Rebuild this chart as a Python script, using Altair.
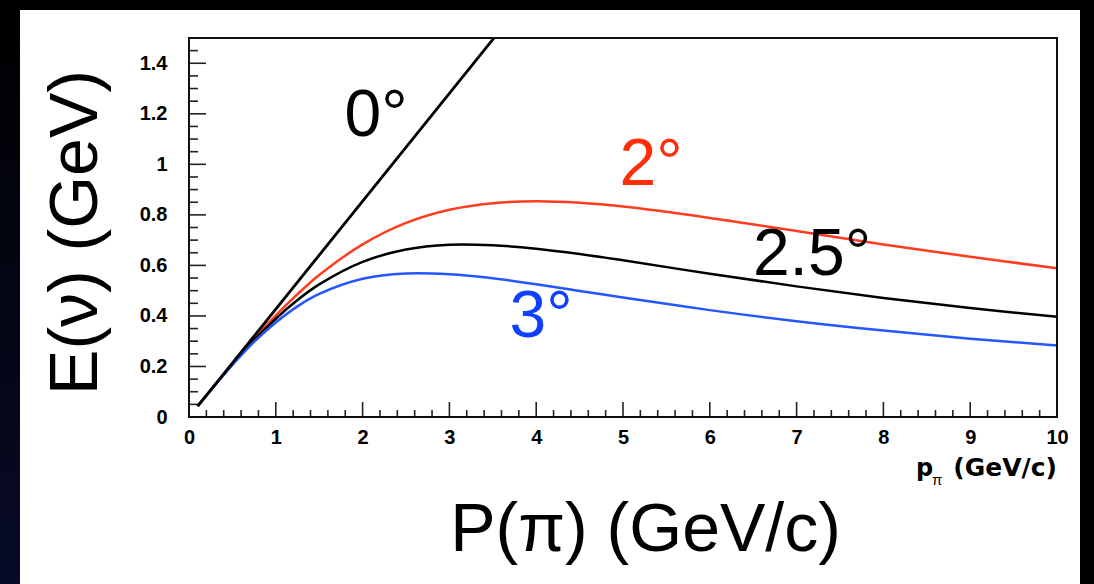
import altair as alt
import pandas as pd

# ---- data ----
p_vals = [0.1, 0.25, 0.5, 0.75, 1, 1.25, 1.5, 2, 2.5, 3, 3.5, 4, 4.5, 5, 6, 7, 8, 9, 10]
e_2deg = [0.043, 0.106, 0.210, 0.309, 0.402, 0.486, 0.562, 0.683, 0.768, 0.820, 0.846, 0.854,
          0.848, 0.833, 0.788, 0.736, 0.683, 0.634, 0.589]
e_25deg = [0.043, 0.106, 0.208, 0.304, 0.389, 0.463, 0.525, 0.614, 0.663, 0.682, 0.680, 0.666,
           0.645, 0.620, 0.567, 0.517, 0.471, 0.431, 0.397]
e_3deg = [0.043, 0.106, 0.206, 0.297, 0.374, 0.438, 0.487, 0.547, 0.568, 0.565, 0.549, 0.525,
          0.499, 0.473, 0.423, 0.379, 0.342, 0.310, 0.283]
p_0deg = [0.1, 3.6]
e_0deg = [0.043, 1.537]

angle_labels = ["0°", "2°", "2.5°", "3°"]
label_p = [2.154, 5.323, 7.177, 4.055]
label_e = [1.112, 0.918, 0.562, 0.317]
label_colors = ["#000000", "#ff2d0a", "#000000", "#1040ff"]

x_major = list(range(0, 11))
x_minor = [round(i * 0.2, 2) for i in range(1, 50) if i % 5 != 0]
y_major = [0, 0.2, 0.4, 0.6, 0.8, 1.0, 1.2, 1.4]
y_minor = [round(i * 0.05, 2) for i in range(1, 30) if i % 4 != 0]

W, H = 868, 379
FONT = "Liberation Sans"

x_scale = alt.Scale(domain=[0, 10], nice=False, zero=False)
y_scale = alt.Scale(domain=[0, 1.5], nice=False, zero=False)


def X(**kw):
    return alt.X("p:Q", scale=x_scale, axis=alt.Axis(
        values=x_major, title="P(π) (GeV/c)", titleFont=FONT, titleFontSize=68,
        titleFontWeight="normal", titleColor="black", titleX=456, titleY=133,
        titleAlign="center", titleBaseline="alphabetic", titleAngle=0,
        labelPadding=10, labelFlush=False, zindex=2), **kw)


def Y(**kw):
    return alt.Y("E:Q", scale=y_scale, axis=alt.Axis(
        values=y_major, format="~g", title="E(ν) (GeV)", titleFont=FONT, titleFontSize=68,
        titleFontWeight="normal", titleColor="black", titleX=-93, titleY=194,
        titleAlign="center", titleBaseline="alphabetic", titleAngle=270,
        labelPadding=22, labelFlush=False, zindex=2), **kw)


one = alt.Data(values=[{}])

# white slide panel and dark left strip
panel = alt.Chart(one).mark_rect(color="white").encode(
    x=alt.value(-169), x2=alt.value(891), y=alt.value(-28), y2=alt.value(546))
strip = alt.Chart(one).mark_rect(
    color=alt.LinearGradient(gradient="linear", x1=0, x2=0, y1=0, y2=1,
                             stops=[alt.GradientStop(color="#000000", offset=0),
                                    alt.GradientStop(color="#070b26", offset=1)])
).encode(x=alt.value(-189), x2=alt.value(-169), y=alt.value(-38), y2=alt.value(546))

# inward ticks
df_xmaj = pd.DataFrame({"p": x_major})
df_xmin = pd.DataFrame({"p": x_minor})
df_ymaj = pd.DataFrame({"E": y_major})
df_ymin = pd.DataFrame({"E": y_minor})
tick_color = "#222222"
xt_major = alt.Chart(df_xmaj).mark_rule(color=tick_color, strokeWidth=1.6).encode(
    x=X(), y=alt.value(H), y2=alt.value(H - 15))
xt_minor = alt.Chart(df_xmin).mark_rule(color=tick_color, strokeWidth=1.6).encode(
    x=X(), y=alt.value(H), y2=alt.value(H - 7))
yt_major = alt.Chart(df_ymaj).mark_rule(color=tick_color, strokeWidth=1.6).encode(
    y=Y(), x=alt.value(0), x2=alt.value(17))
yt_minor = alt.Chart(df_ymin).mark_rule(color=tick_color, strokeWidth=1.6).encode(
    y=Y(), x=alt.value(0), x2=alt.value(9))

# curves
df_curves = pd.concat([
    pd.DataFrame({"p": p_vals, "E": e_2deg, "s": "2°"}),
    pd.DataFrame({"p": p_vals, "E": e_25deg, "s": "2.5°"}),
    pd.DataFrame({"p": p_vals, "E": e_3deg, "s": "3°"}),
])
curves = alt.Chart(df_curves).mark_line(strokeWidth=2.5, interpolate="catmull-rom").encode(
    x=X(), y=Y(),
    detail="s:N",
    color=alt.Color("s:N", scale=alt.Scale(domain=["2°", "2.5°", "3°"],
                                           range=["#ff3c1e", "#000000", "#2457ff"]),
                    legend=None))
df_zero = pd.DataFrame({"p": p_0deg, "E": e_0deg})
zero_line = alt.Chart(df_zero).mark_line(strokeWidth=2.8, color="black", clip=True).encode(
    x=X(), y=Y())

# frame
frame = alt.Chart(one).mark_rect(filled=False, stroke="#111111", strokeWidth=2).encode(
    x=alt.value(0), x2=alt.value(W), y=alt.value(0), y2=alt.value(H))

# angle labels
df_lab = pd.DataFrame({"p": label_p, "E": label_e, "t": angle_labels, "c": label_colors})
labels = alt.Chart(df_lab).mark_text(font=FONT, fontSize=66, align="center",
                                      baseline="alphabetic").encode(
    x=X(), y=Y(), text="t:N", color=alt.Color("c:N", scale=None))

# small ROOT axis title p_pi (GeV/c)
small_p = alt.Chart(one).mark_text(text="p", font="DejaVu Sans", fontWeight="bold", fontSize=24,
                                   align="left", baseline="alphabetic", color="black").encode(
    x=alt.value(727), y=alt.value(438))
small_pi = alt.Chart(one).mark_text(text="π", font=FONT, fontSize=15,
                                    align="left", baseline="alphabetic", color="black").encode(
    x=alt.value(743), y=alt.value(447))
small_unit = alt.Chart(one).mark_text(text="(GeV/c)", font="DejaVu Sans", fontWeight="bold",
                                      fontSize=25, align="right", baseline="alphabetic",
                                      color="black").encode(
    x=alt.value(W), y=alt.value(438))

chart = alt.layer(
    strip, panel, xt_major, xt_minor, yt_major, yt_minor, curves, zero_line, frame,
    labels, small_p, small_pi, small_unit
).properties(
    width=W, height=H,
    padding={"left": 189, "top": 38, "right": 37, "bottom": 167},
    autosize=alt.AutoSizeParams(type="none"),
    background="#000000",
).configure_view(stroke=None).configure_axis(
    grid=False, ticks=False, domain=False,
    labelFont=FONT, labelFontWeight="bold", labelFontSize=20, labelColor="black",
)

chart.save("out.html", embed_options={"renderer": "svg", "actions": False})
